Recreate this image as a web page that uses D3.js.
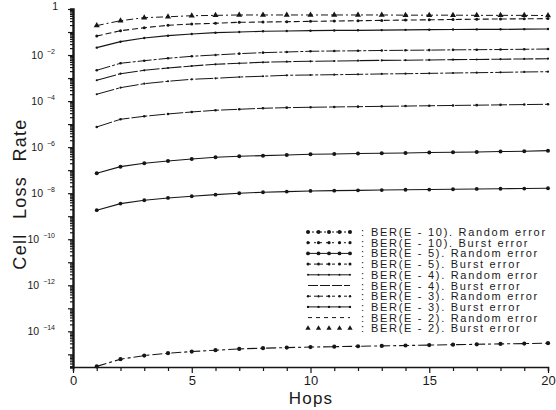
<!DOCTYPE html>
<html><head><meta charset="utf-8">
<script src="https://cdn.jsdelivr.net/npm/d3@7"></script>
<style>
body{margin:0;background:#fff}
svg{display:block}
text{font-family:"Liberation Sans",Arial,sans-serif;fill:#1a1a1a}
</style>
</head><body>
<svg id="chart" width="556" height="410"></svg>
<script>
// ---------------- data ----------------
const hops = [1,2,3,4,5,6,7,8,9,10,11,12,13,14,15,16,17,18,19,20];
const xTickValues = [0,1,2,3,4,5,6,7,8,9,10,11,12,13,14,15,16,17,18,19,20];
const xTickLabels = [0,5,10,15,20];
const yLabelExponents = [0,-2,-4,-6,-8,-10,-12,-14];

const ber2Burst   = [0.19,0.31,0.42,0.46,0.51,0.53,0.55,0.55,0.55,0.55,0.55,0.55,0.55,0.54,0.54,0.54,0.53,0.53,0.53,0.52];
const ber2Random  = [0.067,0.114,0.154,0.196,0.223,0.239,0.264,0.273,0.281,0.292,0.301,0.310,0.320,0.330,0.340,0.350,0.361,0.368,0.375,0.383];
const ber3Burst   = [0.0209,0.0380,0.0551,0.0693,0.0821,0.0935,0.100,0.108,0.111,0.114,0.117,0.119,0.121,0.124,0.126,0.129,0.130,0.131,0.133,0.135];
const ber3Random  = [2.18e-3,4.39e-3,5.69e-3,7.23e-3,8.83e-3,1.01e-2,1.15e-2,1.27e-2,1.36e-2,1.46e-2,1.50e-2,1.53e-2,1.58e-2,1.61e-2,1.64e-2,1.68e-2,1.71e-2,1.74e-2,1.78e-2,1.83e-2];
const ber4Burst   = [8.02e-4,1.55e-3,2.18e-3,2.74e-3,3.35e-3,3.97e-3,4.39e-3,4.85e-3,5.15e-3,5.36e-3,5.52e-3,5.69e-3,5.86e-3,5.98e-3,6.11e-3,6.30e-3,6.41e-3,6.61e-3,6.75e-3,6.95e-3];
const ber4Random  = [1.98e-4,3.83e-4,5.70e-4,7.26e-4,8.85e-4,9.79e-4,1.11e-3,1.20e-3,1.32e-3,1.36e-3,1.40e-3,1.45e-3,1.51e-3,1.55e-3,1.60e-3,1.66e-3,1.71e-3,1.77e-3,1.84e-3,1.89e-3];
const ber5Burst   = [7.52e-6,1.62e-5,2.19e-5,2.76e-5,3.37e-5,3.99e-5,4.41e-5,4.88e-5,5.18e-5,5.39e-5,5.56e-5,5.73e-5,5.90e-5,6.08e-5,6.27e-5,6.46e-5,6.65e-5,6.85e-5,7.06e-5,7.28e-5];
const ber5Random  = [7.34e-8,1.42e-7,2.00e-7,2.51e-7,3.07e-7,3.64e-7,4.02e-7,4.27e-7,4.57e-7,4.91e-7,5.06e-7,5.26e-7,5.42e-7,5.58e-7,5.82e-7,6.00e-7,6.18e-7,6.43e-7,6.62e-7,7.03e-7];
const ber10Burst  = [1.82e-9,3.52e-9,4.93e-9,6.21e-9,7.36e-9,8.65e-9,9.93e-9,1.10e-8,1.17e-8,1.25e-8,1.29e-8,1.33e-8,1.37e-8,1.41e-8,1.44e-8,1.48e-8,1.53e-8,1.56e-8,1.59e-8,1.64e-8];
const ber10Random = [3.0e-16,6.15e-16,8.83e-16,1.12e-15,1.32e-15,1.51e-15,1.72e-15,1.85e-15,1.96e-15,2.07e-15,2.15e-15,2.24e-15,2.33e-15,2.42e-15,2.52e-15,2.62e-15,2.73e-15,2.84e-15,2.93e-15,3.05e-15];

const legendLabels = [
  "BER(E - 10). Random error",
  "BER(E - 10). Burst error",
  "BER(E - 5). Random error",
  "BER(E - 5). Burst error",
  "BER(E - 4). Random error",
  "BER(E - 4). Burst error",
  "BER(E - 3). Random error",
  "BER(E - 3). Burst error",
  "BER(E - 2). Random error",
  "BER(E - 2). Burst error"
];
const legendSeries = [ber10Random, ber10Burst, ber5Random, ber5Burst, ber4Random, ber4Burst, ber3Random, ber3Burst, ber2Random, ber2Burst];

// ---------------- styles (not data) ----------------
const styles = [
  {dash:"10,3,3,3", w:1.1, marker:"circle", r:2.1, lr:2.0, ldash:"2,2"},  // E-10 random
  {dash:null,       w:1.1, marker:"circle", r:1.9, lr:1.6, ldash:"2,4"},  // E-10 burst
  {dash:null,       w:1.1, marker:"circle", r:2.0, lr:1.9, ldash:null},   // E-5 random
  {dash:"16,2",     w:1.0, marker:"circle", r:1.3, lr:1.5, ldash:"3,3"},  // E-5 burst
  {dash:"18,2,3,2", w:1.0, marker:"circle", r:1.1, lr:1.0, ldash:null},   // E-4 random
  {dash:"20,2",     w:1.1, marker:"circle", r:1.1, lr:0,   ldash:"10,2"}, // E-4 burst
  {dash:"14,2,3,2", w:1.0, marker:"circle", r:1.3, lr:1.2, ldash:"3,3"},  // E-3 random
  {dash:null,       w:1.2, marker:"circle", r:1.2, lr:1.2, ldash:null},   // E-3 burst
  {dash:"6,3",      w:1.1, marker:"circle", r:1.5, lr:0,   ldash:"4,4"},  // E-2 random
  {dash:"7,3,2,3",  w:1.0, marker:"triangle", r:2.3, lr:2.0, ldash:"0,9"} // E-2 burst
];

// ---------------- drawing ----------------
const svg = d3.select("#chart");
const ink = "#161616";
const x = d3.scaleLinear().domain([0,20]).range([73,548]);
const y = d3.scaleLog().domain([Math.pow(10,-15.55),1]).range([367,9]);

// x axis
const xAxis = d3.axisBottom(x).tickValues(xTickValues).tickSize(4)
  .tickFormat(d => xTickLabels.includes(d) ? d : "");
const gx = svg.append("g").attr("transform","translate(0,367)").call(xAxis);
gx.select(".domain").attr("stroke",ink).attr("stroke-width",1.5);
gx.selectAll(".tick line").attr("stroke",ink).attr("stroke-width",1.2)
  .attr("y2", d => xTickLabels.includes(d) ? 6 : 4);
gx.selectAll(".tick text").attr("font-size",13).attr("dy","0.85em").attr("fill",ink);

// y axis: minor (log) ticks
const minorVals = [];
for (let e=-16; e<=0; e++) for (let m=1; m<=9; m++) {
  const v = m*Math.pow(10,e);
  if (v >= Math.pow(10,-15.55) && v <= 1) minorVals.push(v);
}
const yMinor = d3.axisLeft(y).tickValues(minorVals).tickFormat("").tickSizeOuter(0).tickSize(3);
const gy = svg.append("g").attr("transform","translate(73,0)").call(yMinor);
gy.select(".domain").attr("stroke",ink).attr("stroke-width",2.4);
gy.selectAll(".tick line").attr("stroke",ink).attr("stroke-width",1.2)
  .attr("x2", d => Math.abs(Math.log10(d) - Math.round(Math.log10(d)))<1e-9 ? -5 : -3);

// y labels with superscripts
const yl = svg.append("g");
yLabelExponents.forEach(e => {
  const t = yl.append("text").attr("x",55).attr("y",y(Math.pow(10,e))+4)
    .attr("text-anchor","end").attr("font-size",10.5).attr("fill",ink);
  if (e === 0) { t.text("1"); t.attr("x",58).attr("y", y(1)+1); }
  else {
    t.append("tspan").text("10");
    t.append("tspan").attr("dx",4).attr("dy",-5).attr("font-size",7).text("\u2212" + Math.abs(e));
  }
});

// axis titles
svg.append("text").attr("transform","translate(26,194) rotate(-90)")
  .attr("text-anchor","middle").attr("font-size",18).attr("letter-spacing",1.3)
  .attr("word-spacing",8).attr("fill",ink).text("Cell Loss Rate");
svg.append("text").attr("x",311).attr("y",404).attr("text-anchor","middle")
  .attr("font-size",17).attr("letter-spacing",1.2).attr("fill",ink).text("Hops");

// curves
const line = d3.line().x((d,i)=>x(hops[i])).y(d=>y(d));
const tri = d3.symbol().type(d3.symbolTriangle);
legendSeries.forEach((s,k) => {
  const st = styles[k];
  const g = svg.append("g");
  g.append("path").datum(s).attr("d",line).attr("fill","none").attr("stroke",ink)
    .attr("stroke-width",st.w).attr("stroke-dasharray",st.dash);
  if (st.marker === "triangle") {
    g.selectAll("path.m").data(s).enter().append("path").attr("class","m")
      .attr("d", tri.size(st.r*st.r*3))
      .attr("transform",(d,i)=>`translate(${x(hops[i])},${y(d)})`).attr("fill",ink);
  } else {
    g.selectAll("circle").data(s).enter().append("circle")
      .attr("cx",(d,i)=>x(hops[i])).attr("cy",d=>y(d)).attr("r",st.r).attr("fill",ink);
  }
});

// legend
const lg = svg.append("g");
const legTop = 232, legStep = 10.7;
legendLabels.forEach((lab,k) => {
  const st = styles[k];
  const yy = legTop + k*legStep;
  if (st.marker !== "triangle")
    lg.append("line").attr("x1",308).attr("x2",350).attr("y1",yy).attr("y2",yy)
      .attr("stroke",ink).attr("stroke-width",1).attr("stroke-dasharray",st.ldash);
  if (st.lr > 0) [308,318.5,329,339.5,350].forEach(px => {
    if (st.marker === "triangle") {
      lg.append("path").attr("d",tri.size(st.lr*st.lr*3)).attr("transform",`translate(${px},${yy})`).attr("fill",ink);
    } else {
      lg.append("circle").attr("cx",px).attr("cy",yy).attr("r",st.lr).attr("fill",ink);
    }
  });
  lg.append("text").attr("x",361).attr("y",yy+4).attr("font-size",11).attr("fill",ink).text(":");
  lg.append("text").attr("x",371).attr("y",yy+4).attr("font-size",11)
    .attr("letter-spacing",1.7).attr("fill",ink).text(lab);
});
</script>
</body></html>
